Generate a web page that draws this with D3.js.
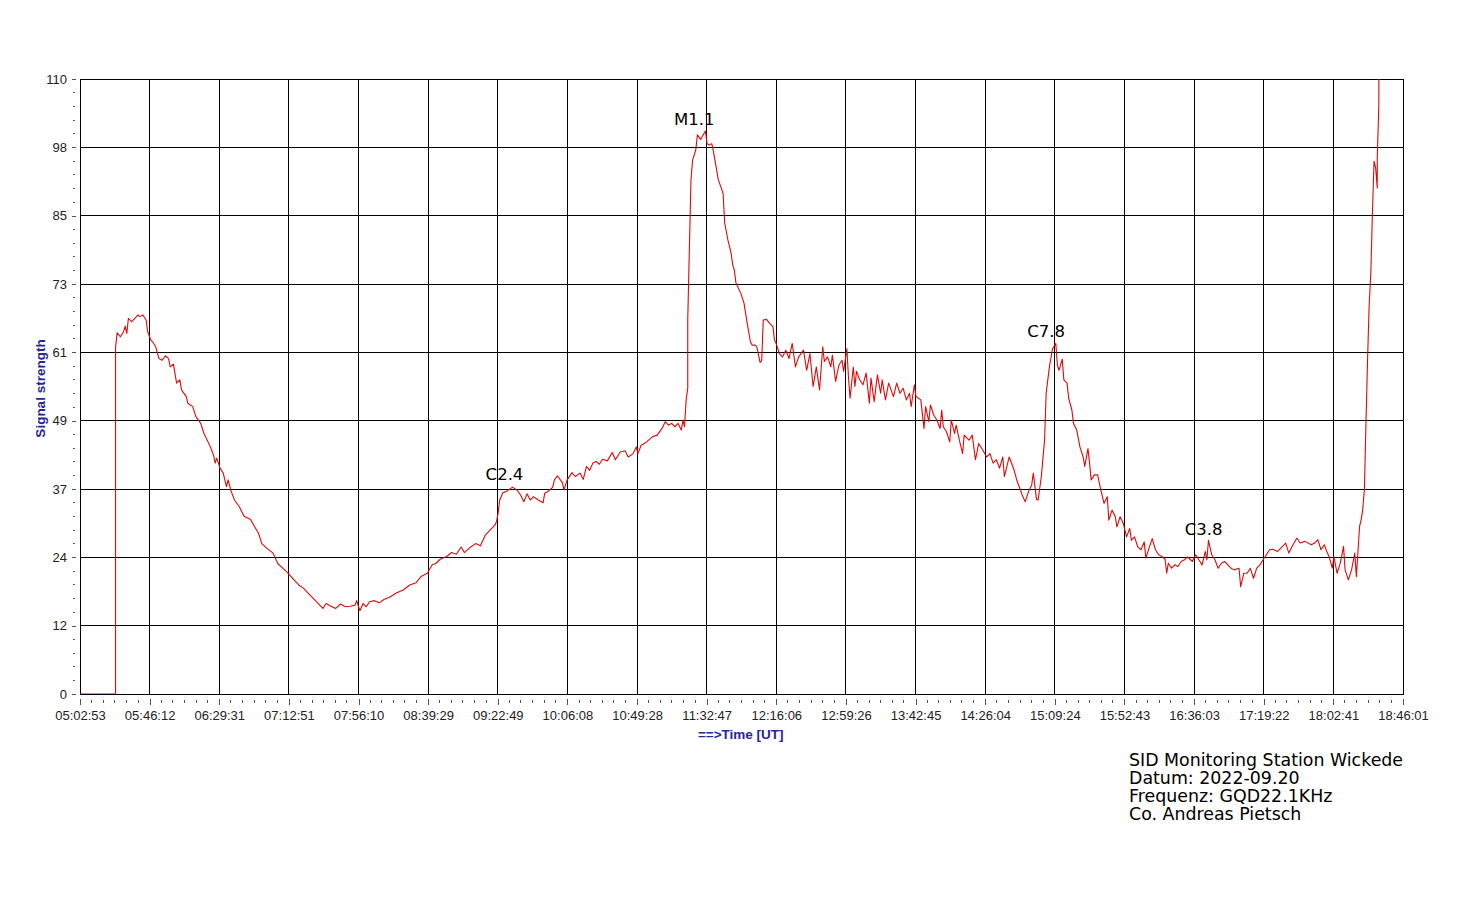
<!DOCTYPE html>
<html>
<head>
<meta charset="utf-8">
<script src="https://cdn.jsdelivr.net/npm/d3@7"></script>
<style>
  body { margin: 0; background: #fff; }
</style>
</head>
<body>
<svg id="chart" width="1463" height="911"></svg>
<script>
// tick labels of the two axes
const xTickLabels = ["05:02:53", "05:46:12", "06:29:31", "07:12:51", "07:56:10", "08:39:29", "09:22:49",
  "10:06:08", "10:49:28", "11:32:47", "12:16:06", "12:59:26", "13:42:45", "14:26:04", "15:09:24",
  "15:52:43", "16:36:03", "17:19:22", "18:02:41", "18:46:01"];
const yTickLabels = ["0", "12", "24", "37", "49", "61", "73", "85", "98", "110"];
const yMax = 110;

const times = [
  // 05h
  "05:03", "05:25", "05:25", "05:25", "05:25", "05:25", "05:25", "05:25", "05:25", "05:25",
  "05:26", "05:28", "05:30", "05:31", "05:32", "05:33", "05:35", "05:37", "05:39", "05:40",
  "05:42", "05:44", "05:45", "05:47", "05:48", "05:50", "05:52", "05:54", "05:56", "05:58", "05:59",
  // 06h
  "06:01", "06:03", "06:05", "06:06", "06:09", "06:10", "06:13", "06:15", "06:18", "06:20",
  "06:21", "06:24", "06:26", "06:27", "06:28", "06:30", "06:32", "06:34", "06:35", "06:37",
  "06:39", "06:42", "06:45", "06:49", "06:51", "06:54", "06:56", "06:59",
  // 07h
  "07:03", "07:06", "07:09", "07:12", "07:16", "07:19", "07:22", "07:25", "07:28", "07:31",
  "07:34", "07:36", "07:39", "07:42", "07:45", "07:48", "07:51", "07:54", "07:55", "07:57", "07:59",
  // 08h
  "08:01", "08:03", "08:06", "08:09", "08:12", "08:16", "08:20", "08:24", "08:28", "08:32",
  "08:35", "08:39", "08:42", "08:44", "08:47", "08:51", "08:54", "08:57",
  // 09h
  "09:00", "09:02", "09:06", "09:09", "09:12", "09:15", "09:18", "09:21", "09:22", "09:23",
  "09:24", "09:26", "09:28", "09:30", "09:32", "09:35", "09:37", "09:39", "09:41", "09:43",
  "09:45", "09:48", "09:51", "09:52", "09:54", "09:57", "09:58",
  // 10h
  "10:00", "10:03", "10:04", "10:06", "10:09", "10:11", "10:14", "10:16", "10:18", "10:20",
  "10:22", "10:24", "10:26", "10:28", "10:31", "10:34", "10:36", "10:39", "10:42", "10:44",
  "10:47", "10:49", "10:50", "10:52", "10:55", "10:59",
  // 11h
  "11:02", "11:05", "11:07", "11:09", "11:11", "11:13", "11:15", "11:17", "11:18", "11:19",
  "11:20", "11:21", "11:21", "11:22", "11:23", "11:24", "11:26", "11:27", "11:29", "11:30",
  "11:32", "11:33", "11:34", "11:36", "11:37", "11:39", "11:40", "11:42", "11:43", "11:44",
  "11:46", "11:48", "11:49", "11:50", "11:51", "11:54", "11:56", "11:58",
  // 12h
  "12:00", "12:01", "12:03", "12:04", "12:06", "12:07", "12:08", "12:10", "12:12", "12:14",
  "12:15", "12:16", "12:18", "12:20", "12:22", "12:24", "12:26", "12:28", "12:30", "12:33",
  "12:35", "12:37", "12:39", "12:41", "12:43", "12:45", "12:46", "12:48", "12:50", "12:51",
  "12:53", "12:55", "12:57", "12:58",
  // 13h
  "13:00", "13:01", "13:02", "13:04", "13:05", "13:06", "13:08", "13:10", "13:12", "13:14",
  "13:15", "13:17", "13:19", "13:21", "13:22", "13:24", "13:26", "13:29", "13:31", "13:33",
  "13:35", "13:37", "13:39", "13:40", "13:42", "13:43", "13:46", "13:48", "13:49", "13:51",
  "13:52", "13:54", "13:56", "13:58", "13:59",
  // 14h
  "14:00", "14:02", "14:04", "14:05", "14:07", "14:08", "14:10", "14:12", "14:13", "14:16",
  "14:18", "14:20", "14:22", "14:24", "14:27", "14:29", "14:31", "14:33", "14:35", "14:37",
  "14:38", "14:41", "14:44", "14:46", "14:48", "14:49", "14:51", "14:53", "14:55", "14:56",
  "14:58", "14:59",
  // 15h
  "15:01", "15:03", "15:04", "15:06", "15:08", "15:10", "15:11", "15:12", "15:14", "15:15",
  "15:17", "15:18", "15:20", "15:21", "15:23", "15:25", "15:27", "15:28", "15:30", "15:31",
  "15:32", "15:34", "15:36", "15:38", "15:40", "15:42", "15:43", "15:45", "15:47", "15:48",
  "15:50", "15:52", "15:54", "15:56", "15:57", "15:59",
  // 16h
  "16:01", "16:03", "16:05", "16:06", "16:08", "16:10", "16:12", "16:14", "16:16", "16:18",
  "16:19", "16:20", "16:22", "16:24", "16:26", "16:28", "16:30", "16:32", "16:35", "16:37",
  "16:39", "16:41", "16:43", "16:44", "16:45", "16:47", "16:49", "16:51", "16:53", "16:55",
  "16:57", "16:59",
  // 17h
  "17:01", "17:04", "17:05", "17:07", "17:09", "17:11", "17:13", "17:15", "17:17", "17:19",
  "17:21", "17:23", "17:25", "17:28", "17:30", "17:33", "17:35", "17:37", "17:40", "17:42",
  "17:45", "17:49", "17:51", "17:53", "17:55", "17:57", "17:59",
  // 18h
  "18:00", "18:02", "18:03", "18:05", "18:07", "18:09", "18:10", "18:12", "18:14", "18:16",
  "18:17", "18:19", "18:20", "18:21", "18:22", "18:23", "18:24", "18:25", "18:26", "18:27",
  "18:28", "18:29", "18:30", "18:30", "18:31", "18:31"
];
const signal = [
  // 05h
  0, 0, 20, 12.5, 19, 12, 45, 60, 46, 62,
  64.6, 63.9, 64.8, 65.8, 64.5, 67.2, 66.6, 67.2, 67.8, 67.5,
  67.8, 66.9, 64.8, 63.3, 63.0, 62.1, 60.0, 59.7, 60.5, 60.0, 58.5,
  // 06h
  59.0, 55.6, 56.2, 54.4, 53.2, 52.0, 51.4, 49.6, 48.4, 46.6,
  46.0, 44.2, 42.7, 41.3, 42.2, 40.4, 39.5, 37.1, 38.3, 36.2,
  34.7, 33.5, 31.8, 31.2, 30.2, 28.7, 26.9, 26.1,
  // 07h
  25.2, 23.3, 22.5, 21.7, 20.4, 19.5, 18.9, 18.0, 17.1, 16.2,
  15.3, 16.2, 15.7, 15.3, 16.1, 15.6, 15.7, 15.9, 16.7, 14.9, 16.2,
  // 08h
  15.6, 16.5, 16.7, 16.3, 16.9, 17.4, 18.1, 18.6, 19.5, 19.9,
  21.0, 21.6, 23.1, 23.3, 24.1, 24.6, 25.3, 25.0,
  // 09h
  26.3, 25.3, 26.3, 26.9, 26.5, 28.4, 29.3, 30.2, 30.8, 32.3,
  34.7, 36.0, 36.2, 36.6, 37.0, 36.4, 35.6, 34.4, 35.8, 34.7,
  35.3, 34.7, 34.2, 35.9, 36.2, 37.0, 38.3,
  // 10h
  39.0, 37.8, 36.5, 38.3, 39.6, 38.9, 39.5, 38.4, 40.7, 40.0,
  41.3, 41.6, 41.1, 42.0, 41.7, 43.2, 41.9, 43.3, 43.5, 42.4,
  43.0, 44.2, 43.0, 44.5, 45.0, 46.0,
  // 11h
  46.3, 47.5, 48.7, 48.1, 48.4, 47.8, 48.4, 47.2, 49.0, 47.8,
  52.6, 54.7, 66.9, 79.4, 91.9, 95.5, 97.3, 100.0, 99.2, 99.7,
  100.7, 98.5, 98.2, 98.4, 97.0, 93.7, 92.0, 90.4, 89.5, 84.2,
  81.2, 78.8, 76.7, 75.8, 73.5, 71.7, 69.9, 66.3,
  // 12h
  63.0, 62.4, 62.4, 62.1, 59.3, 59.6, 66.9, 67.0, 66.3, 65.7,
  63.3, 62.7, 60.9, 60.3, 61.5, 60.0, 62.7, 58.5, 60.3, 61.5,
  57.9, 60.9, 55.0, 58.5, 54.4, 62.1, 59.5, 60.3, 58.5, 60.6,
  55.9, 58.8, 59.7, 57.7,
  // 13h
  61.8, 56.7, 52.9, 58.5, 55.0, 57.7, 56.2, 55.3, 57.4, 52.0,
  56.5, 52.3, 57.1, 53.8, 56.2, 52.6, 55.6, 53.2, 55.6, 53.8,
  54.7, 52.6, 53.8, 51.4, 55.3, 53.2, 52.6, 47.5, 51.4, 48.7,
  51.7, 49.9, 49.0, 47.5, 50.8,
  // 14h
  47.8, 46.9, 45.1, 49.0, 46.6, 48.1, 45.4, 43.0, 46.3, 45.4,
  46.3, 41.9, 44.8, 43.9, 42.4, 43.0, 41.3, 41.9, 40.4, 42.4,
  38.9, 42.4, 40.1, 38.0, 36.5, 35.6, 34.4, 36.2, 37.4, 39.5,
  34.8, 34.7,
  // 15h
  38.9, 45.4, 53.8, 58.5, 61.8, 62.7, 58.8, 57.9, 59.9, 56.2,
  55.6, 52.9, 50.8, 48.4, 47.2, 44.2, 42.4, 40.7, 43.9, 41.3,
  38.3, 39.2, 39.2, 36.5, 34.1, 35.3, 31.1, 32.9, 31.7, 29.9,
  31.7, 30.5, 28.1, 29.6, 27.5, 28.1,
  // 16h
  26.3, 25.8, 27.2, 24.3, 26.1, 27.8, 25.8, 24.9, 24.6, 24.1,
  21.6, 23.4, 22.5, 23.1, 22.8, 23.7, 24.0, 24.5, 23.7, 24.9,
  24.0, 23.1, 25.5, 24.0, 27.5, 24.9, 24.0, 22.5, 23.4, 23.7,
  23.1, 22.5,
  // 17h
  22.2, 22.5, 19.2, 21.6, 21.6, 22.5, 20.7, 22.5, 23.1, 24.0,
  24.9, 25.8, 25.9, 25.5, 26.1, 27.0, 25.2, 26.4, 27.9, 27.0,
  27.3, 26.7, 27.0, 27.6, 25.8, 26.7, 25.2,
  // 18h
  24.6, 22.5, 24.6, 21.6, 23.4, 26.4, 22.2, 20.4, 22.2, 25.2,
  21.0, 30.0, 31.2, 33.1, 36.7, 48.8, 60.2, 69.9, 75.4, 86.2,
  95.3, 94.1, 90.5, 95.9, 105.6, 112
];

// flare labels: class, time, height
const flareNames = ["C2.4", "M1.1", "C7.8", "C3.8"];
const flareTimes = ["09:27", "11:25", "15:04", "16:42"];
const flareLevels = [38.3, 101.8, 63.9, 28.4];

const footerLines = ["SID Monitoring Station Wickede", "Datum: 2022-09.20",
  "Frequenz: GQD22.1KHz", "Co. Andreas Pietsch"];

const margin = {top: 79, right: 60, bottom: 217, left: 80};
const W = 1463, H = 911;
const plotW = W - margin.left - margin.right;
const plotH = H - margin.top - margin.bottom;

const sansFont = "'Liberation Sans', Arial, sans-serif";
const labelFont = "'DejaVu Sans', Verdana, sans-serif";

const parseHMS = d3.timeParse("%H:%M:%S");
const parseHM = d3.timeParse("%H:%M");

const xTicks = xTickLabels.map(parseHMS);
const yTicks = yTickLabels.map((d, i) => i * yMax / (yTickLabels.length - 1));

const x = d3.scaleTime()
    .domain([xTicks[0], xTicks[xTicks.length - 1]])
    .range([margin.left, margin.left + plotW]);
const y = d3.scaleLinear()
    .domain([0, yMax])
    .range([margin.top + plotH, margin.top]);

const data = times.map((t, i) => ({t: parseHM(t), v: signal[i]}));

const svg = d3.select("#chart");

svg.append("defs").append("clipPath").attr("id", "plotClip")
  .append("rect")
    .attr("x", margin.left).attr("y", margin.top)
    .attr("width", plotW).attr("height", plotH);

// grid
const grid = svg.append("g").attr("stroke", "#000").attr("stroke-width", 1).attr("shape-rendering", "crispEdges");
grid.selectAll("line.vg").data(xTicks).join("line")
    .attr("class", "vg")
    .attr("x1", d => x(d)).attr("x2", d => x(d))
    .attr("y1", margin.top).attr("y2", margin.top + plotH);
grid.selectAll("line.hg").data(yTicks).join("line")
    .attr("class", "hg")
    .attr("x1", margin.left).attr("x2", margin.left + plotW)
    .attr("y1", d => y(d)).attr("y2", d => y(d));

// y axis: detached ticks + labels
const yAxis = d3.axisLeft(y)
    .tickValues(yTicks)
    .tickFormat((d, i) => yTickLabels[i])
    .tickSize(4)
    .tickPadding(5);
const gy = svg.append("g")
    .attr("transform", `translate(${margin.left - 4},0)`)
    .call(yAxis);
gy.select(".domain").remove();
gy.selectAll("text").style("font-size", "13px").style("font-family", sansFont).attr("fill", "#222");
gy.selectAll(".tick line").attr("stroke", "#555").attr("shape-rendering", "crispEdges");

// y minor ticks
const yMinor = [];
for (let i = 0; i < yTicks.length - 1; i++) {
  for (let k = 1; k < 5; k++) yMinor.push(y(yTicks[i]) + k * (y(yTicks[i + 1]) - y(yTicks[i])) / 5);
}
svg.append("g").selectAll("line").data(yMinor).join("line")
    .attr("x1", margin.left - 7).attr("x2", margin.left - 5)
    .attr("y1", d => d).attr("y2", d => d)
    .attr("stroke", "#555").attr("shape-rendering", "crispEdges");

// x axis
const xAxis = d3.axisBottom(x)
    .tickValues(xTicks)
    .tickFormat(d3.timeFormat("%H:%M:%S"))
    .tickSize(6)
    .tickPadding(6);
const gx = svg.append("g")
    .attr("transform", `translate(0,${margin.top + plotH + 5})`)
    .call(xAxis);
gx.select(".domain").remove();
gx.selectAll("text").style("font-size", "13px").style("font-family", sansFont).attr("fill", "#222");
gx.selectAll(".tick line").attr("stroke", "#555").attr("shape-rendering", "crispEdges");

const xMinor = [];
for (let i = 0; i < xTicks.length - 1; i++) {
  for (let k = 1; k < 6; k++) xMinor.push(x(xTicks[i]) + k * (x(xTicks[i + 1]) - x(xTicks[i])) / 6);
}
svg.append("g").selectAll("line").data(xMinor).join("line")
    .attr("x1", d => d).attr("x2", d => d)
    .attr("y1", margin.top + plotH + 6).attr("y2", margin.top + plotH + 9)
    .attr("stroke", "#555").attr("shape-rendering", "crispEdges");

// frame
svg.append("rect")
    .attr("x", margin.left).attr("y", margin.top)
    .attr("width", plotW).attr("height", plotH)
    .attr("fill", "none").attr("stroke", "#000").attr("shape-rendering", "crispEdges");

// signal line
const line = d3.line().x(d => x(d.t)).y(d => y(d.v));
svg.append("path")
    .datum(data)
    .attr("clip-path", "url(#plotClip)")
    .attr("fill", "none")
    .attr("stroke", "#dd0a0a")
    .attr("stroke-width", 1.1)
    .attr("stroke-linejoin", "round")
    .attr("d", line);

// flare labels
svg.append("g").selectAll("text").data(flareNames).join("text")
    .attr("x", (d, i) => x(parseHM(flareTimes[i])))
    .attr("y", (d, i) => y(flareLevels[i]))
    .attr("text-anchor", "middle")
    .style("font-family", labelFont)
    .style("font-size", "16.5px")
    .attr("fill", "#000")
    .text(d => d);

// axis titles
svg.append("text")
    .attr("transform", `translate(45,${y(yMax / 2) + 2}) rotate(-90)`)
    .attr("text-anchor", "middle")
    .style("font-family", sansFont)
    .style("font-size", "13.5px")
    .style("font-weight", "bold")
    .attr("fill", "#262699")
    .text("Signal strength");
svg.append("text")
    .attr("x", x(parseHMS("11:54:00")))
    .attr("y", 739)
    .attr("text-anchor", "middle")
    .style("font-family", sansFont)
    .style("font-size", "13.5px")
    .style("font-weight", "bold")
    .attr("fill", "#262699")
    .text("==>Time [UT]");

// station footer
svg.append("g").selectAll("text").data(footerLines).join("text")
    .attr("x", 1129)
    .attr("y", (d, i) => 766 + i * 18)
    .style("font-family", labelFont)
    .style("font-size", "17.4px")
    .attr("fill", "#000")
    .text(d => d);
</script>
</body>
</html>
